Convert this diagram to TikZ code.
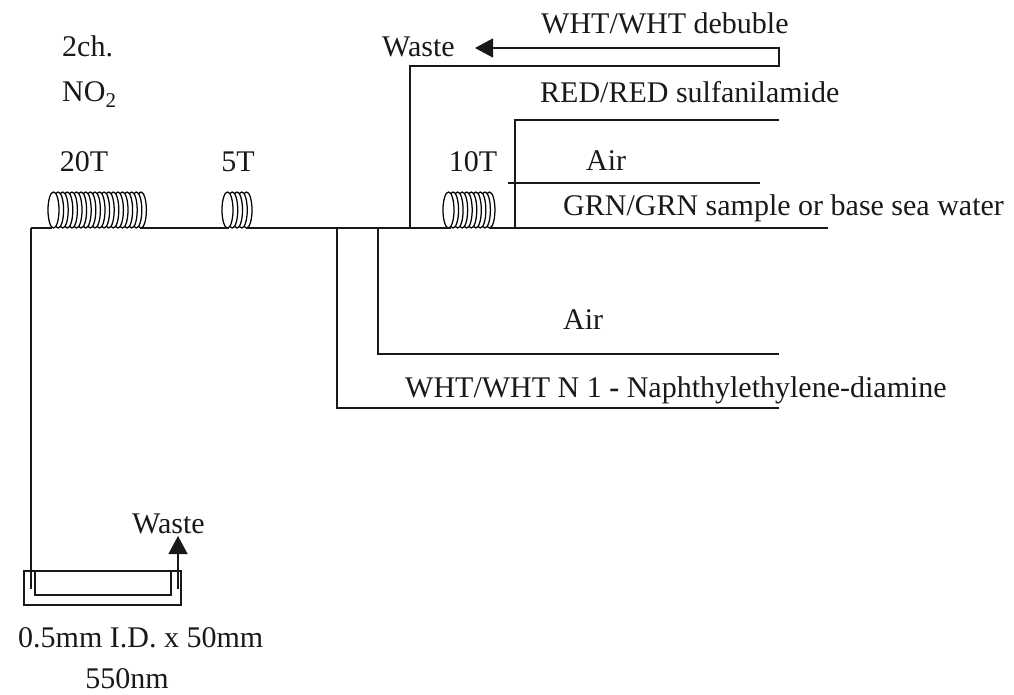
\documentclass[tikz,border=0pt]{standalone}
\usepackage{fontspec}
\setmainfont{Liberation Serif}
\usetikzlibrary{arrows.meta}
\tikzset{
  lbl/.style={font=\fontsize{30}{30}\selectfont,anchor=base west,inner sep=0pt,text=black!90},
  lblc/.style={lbl,anchor=base},
  pipe/.style={draw=black!90,line width=1.4pt},
  thinpipe/.style={draw=black!90,line width=1.1pt},
  wire/.style={draw=black,line width=1.25pt,fill=white},
  flow/.style={pipe,-{Triangle[length=18pt,width=19pt]}}
}
\begin{document}
\begin{tikzpicture}[x=1pt,y=-1pt]
\useasboundingbox (0,0) rectangle (1014,695);
% labels
\node [lbl] (chan) at (62,57) {2ch.};
\node [lbl] (gas) at (62,102) {NO\textsubscript{2}};
\node [lblc] (t20) at (84,171.5) {20T};
\node [lblc] (t5) at (238,171.5) {5T};
\node [lblc] (t10) at (473,171.5) {10T};
\node [lbl] (wasteA) at (382,57) {Waste};
\node [lbl] (debub) at (541,34) {WHT/WHT debuble};
\node [lbl] (sulf) at (540,103) {RED/RED sulfanilamide};
\node [lbl] (airA) at (586,171) {Air};
\node [lbl] (samp) at (563,215) {GRN/GRN sample or base sea water};
\node [lbl] (airB) at (563,329) {Air};
\node [lbl] (naph) at (405,397) {WHT/WHT N 1 \textbf{-} Naphthylethylene-diamine};
\node [lbl] (wasteB) at (132,533) {Waste};
\node [lbl] (cell) at (18,647) {0.5mm I.D. x 50mm};
\node [lblc] (wave) at (127,688) {550nm};
% points on the main line
\coordinate (endL) at (31,228);
\coordinate (c20a) at (52,228);
\coordinate (c20b) at (140,228);
\coordinate (c5a) at (229,228);
\coordinate (c5b) at (246,228);
\coordinate (c10a) at (451,228);
\coordinate (c10b) at (490,228);
\coordinate (endR) at (828,228);
\coordinate (jA) at (337,228);
\coordinate (jB) at (378,228);
\coordinate (jC) at (410,228);
\coordinate (jD) at (515,228);
\coordinate (naphE) at (779,408);
\coordinate (airE) at (779,354);
\coordinate (sulfE) at (779,120);
\coordinate (airAa) at (508,183);
\coordinate (airAb) at (760,183);
\coordinate (wasteE) at (779,66);
\coordinate (wasteF) at (779,48);
\coordinate (wasteT) at (475,48);
\coordinate (cellA) at (31,589);
\coordinate (cellB) at (178,589);
\coordinate (cellT) at (178,536);
% coils
\foreach \xs/\n/\dx in {53.5/20/4.6,227.5/5/4.75,448.5/10/4.55} {
  \foreach \i in {\n,...,1} {
    \pgfmathsetmacro\xc{\xs+(\i-1)*\dx}
    \draw [wire] (\xc,210) ellipse [x radius=5.5,y radius=18];
  }
}
% main line
\draw [pipe] (endL) -- (c20a) (c20b) -- (c5a) (c5b) -- (c10a) (c10b) -- (endR);
\draw [pipe] (endL) -- (cellA);
\draw [pipe] (jA) |- (naphE);
\draw [pipe] (jB) |- (airE);
\draw [pipe] (jD) |- (sulfE);
\draw [pipe] (airAa) -- (airAb);
\draw [flow] (jC) |- (wasteE) -- (wasteF) -- (wasteT);
% flow cell
\draw [thinpipe] (24,571) rectangle (181,605);
\draw [pipe] (24,571) -- (181,571);
\draw [pipe] (35,571) |- (171,595) -- (171,571);
\draw [flow] (cellB) -- (cellT);
\end{tikzpicture}
\end{document}
